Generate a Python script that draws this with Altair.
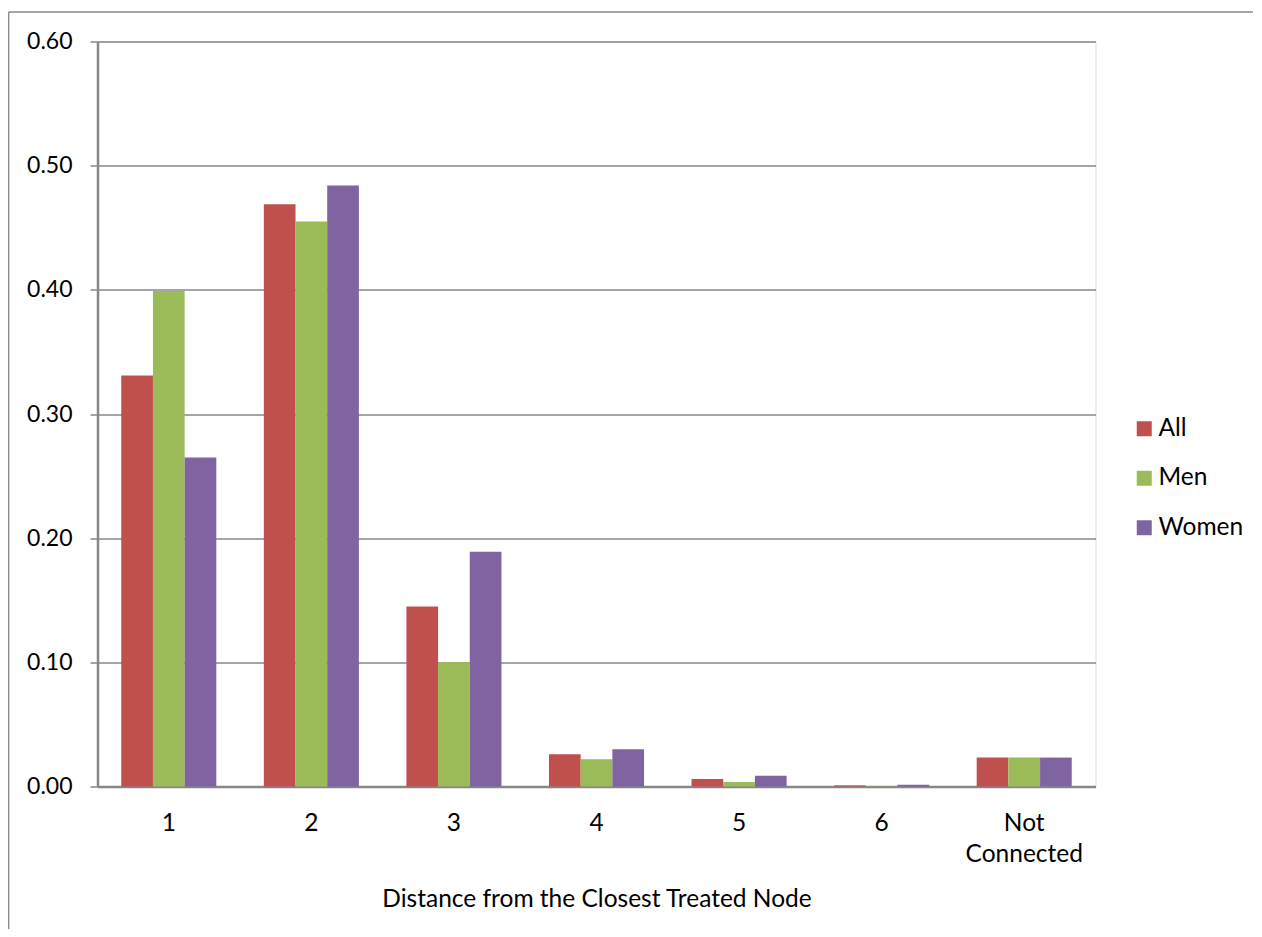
import altair as alt
import pandas as pd

categories = ["1", "2", "3", "4", "5", "6", "Not Connected"]
series = ["All", "Men", "Women"]
all_vals = [0.331, 0.469, 0.145, 0.026, 0.0060, 0.0009, 0.0233]
men_vals = [0.399, 0.455, 0.100, 0.022, 0.0036, 0.0003, 0.0233]
women_vals = [0.265, 0.484, 0.189, 0.030, 0.0086, 0.0015, 0.0233]
colors = ["#C0504D", "#9BBB59", "#8064A2"]
y_ticks = [0.0, 0.1, 0.2, 0.3, 0.4, 0.5, 0.6]

rows = []
for name, vals in zip(series, [all_vals, men_vals, women_vals]):
    for c, v in zip(categories, vals):
        rows.append({"Distance": c, "Group": name, "Value": v})
df = pd.DataFrame(rows)

FONT = "Lato"
W, H = 998, 745
PL, PT, PR, PB = 89.5, 33.5, 157, 142
GREY = "#878787"

bars = alt.Chart(df).mark_bar().encode(
    x=alt.X("Distance:N", sort=categories,
            scale=alt.Scale(paddingInner=1/3, paddingOuter=1/6),
            axis=alt.Axis(title="Distance from the Closest Treated Node",
                          labelAngle=0, ticks=False, labelPadding=25,
                          labelFontSize=24.5, labelFont=FONT, labelColor="#000000",
                          labelLineHeight=31,
                          labelExpr="datum.value == 'Not Connected' ? ['Not', 'Connected'] : datum.label",
                          domainColor=GREY, domainWidth=2.5,
                          titleFont=FONT, titleFontSize=24.5, titleFontWeight="normal",
                          titleColor="#000000", titleBaseline="alphabetic", titleY=120)),
    xOffset=alt.XOffset("Group:N", sort=series,
                        scale=alt.Scale(paddingInner=0, paddingOuter=0)),
    y=alt.Y("Value:Q", scale=alt.Scale(domain=[0, 0.6], nice=False),
            axis=alt.Axis(title=None, values=y_ticks, format=".2f",
                          labelFontSize=23, labelFont=FONT, labelColor="#000000",
                          labelPadding=18, tickSize=7.5, tickColor=GREY, tickWidth=1.5,
                          domainColor=GREY, domainWidth=2.5,
                          grid=True, gridColor=GREY, gridWidth=1.5)),
    color=alt.Color("Group:N", sort=series,
                    scale=alt.Scale(domain=series, range=colors),
                    legend=alt.Legend(title=None, orient="none", legendX=1034.5, legendY=375,
                                      symbolType="square", symbolSize=225, symbolStrokeWidth=0,
                                      labelFont=FONT, labelFontSize=24.5, labelColor="#000000",
                                      labelOffset=2, rowPadding=24.5, padding=0)),
)

frame_df = pd.DataFrame({"a": [0]})
top_rule = alt.Chart(frame_df).mark_rule(color=GREY, strokeWidth=1.3).encode(
    x=alt.value(-88.8), x2=alt.value(W + PR + 20), y=alt.value(-29.5))
left_rule = alt.Chart(frame_df).mark_rule(color=GREY, strokeWidth=1.3).encode(
    x=alt.value(-88.8), y=alt.value(-29.5), y2=alt.value(H + PB + 20))

chart = alt.layer(bars, top_rule, left_rule).properties(
    width=W, height=H,
    autosize=alt.AutoSizeParams(type="none"),
    padding={"left": PL, "top": PT, "right": PR, "bottom": PB},
).configure_view(stroke=None).configure(background="#ffffff")

chart.save("out.html", embed_options={"renderer": "svg", "actions": False})
